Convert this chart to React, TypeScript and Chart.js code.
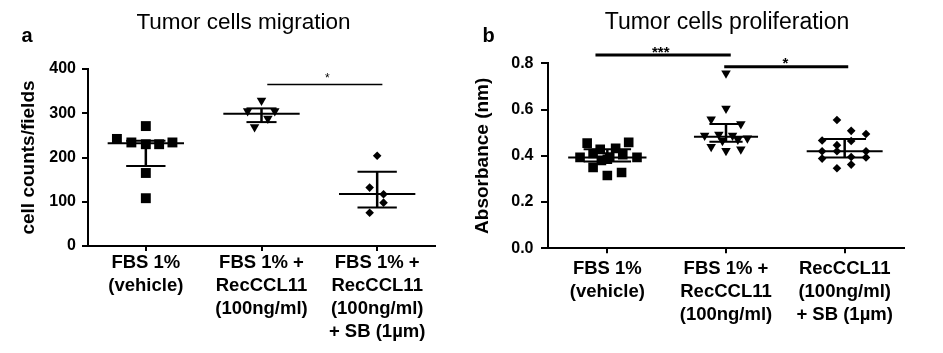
import React, { useEffect, useRef } from 'react';
import { Chart, registerables } from 'chart.js';
Chart.register(...registerables);

const FONT = '"Liberation Sans", Arial, Helvetica, sans-serif';

// ---------- Panel a: Tumor cells migration ----------
const migTitle = 'Tumor cells migration';
const migYLabel = 'cell counts/fields';
const migCategories = [
  ['FBS 1%', '(vehicle)'],
  ['FBS 1% +', 'RecCCL11', '(100ng/ml)'],
  ['FBS 1% +', 'RecCCL11', '(100ng/ml)', '+ SB (1µm)'],
];
const migVehicle = [271, 242, 234, 230, 230, 234, 165, 108];
const migVehicleJitter = [0, -0.25, -0.125, 0, 0.115, 0.23, 0, 0];
const migRec = [329, 305, 305, 288, 269];
const migRecJitter = [0, -0.12, 0.115, 0.055, -0.06];
const migRecSB = [204, 132, 117, 98, 75];
const migRecSBJitter = [0, -0.065, 0.055, 0.055, -0.065];
const migMedian = [232, 299, 117.5];
const migQ1 = [181, 280, 87];
const migQ3 = [238, 311, 168];
const migSigFrom = [1.05];
const migSigTo = [2.045];
const migSigY = [365];
const migSigText = ['*'];
const migSigTextX = [1.57];
const migSigTextY = [370];

// ---------- Panel b: Tumor cells proliferation ----------
const proTitle = 'Tumor cells proliferation';
const proYLabel = 'Absorbance (nm)';
const proCategories = [
  ['FBS 1%', '(vehicle)'],
  ['FBS 1% +', 'RecCCL11', '(100ng/ml)'],
  ['RecCCL11', '(100ng/ml)', '+ SB (1µm)'],
];
const proVehicle = [0.455, 0.428, 0.432, 0.458, 0.393, 0.41, 0.385, 0.405, 0.393, 0.395, 0.35, 0.315, 0.328, 0.38];
const proVehicleJitter = [-0.17, -0.06, 0.07, 0.18, -0.23, -0.12, 0, 0.13, 0.25, 0.02, -0.12, 0, 0.12, -0.05];
const proRec = [0.757, 0.605, 0.558, 0.537, 0.488, 0.492, 0.488, 0.476, 0.439, 0.422, 0.428, 0.465, 0.47];
const proRecJitter = [0, 0, -0.125, 0.125, -0.18, -0.06, 0.055, 0.18, -0.125, 0, 0.125, -0.03, 0.1];
const proRecSB = [0.555, 0.508, 0.494, 0.466, 0.446, 0.464, 0.42, 0.42, 0.42, 0.388, 0.393, 0.346, 0.362, 0.395];
const proRecSBJitter = [-0.065, 0.055, 0.18, -0.19, -0.065, 0.055, -0.19, 0.18, -0.065, -0.19, 0.18, -0.065, 0.055, 0.055];
const proMedian = [0.393, 0.482, 0.42];
const proQ1 = [0.375, 0.461, 0.393];
const proQ3 = [0.428, 0.537, 0.473];
const proSigFrom = [-0.1, 0.985];
const proSigTo = [1.04, 2.03];
const proSigY = [0.836, 0.785];
const proSigText = ['***', '*'];
const proSigTextX = [0.45, 1.5];
const proSigTextY = [0.826, 0.779];

const decorPlugin = {
  id: 'decor',
  afterDatasetsDraw(chart: any, _args: any, opts: any) {
    const ctx = chart.ctx;
    const xs = chart.scales.x;
    const ys = chart.scales.y;
    ctx.save();
    ctx.fillStyle = '#000';
    ctx.textAlign = 'center';
    ctx.textBaseline = 'alphabetic';
    ctx.font = `${opts.titleSize}px ${FONT}`;
    ctx.fillText(opts.title, opts.titleX, opts.titleY);
    ctx.font = `bold ${opts.letterSize}px ${FONT}`;
    ctx.fillText(opts.letter, opts.letterX, opts.letterY);
    ctx.font = `${opts.starWeight} ${opts.starSize}px ${FONT}`;
    opts.starText.forEach((t: string, i: number) => {
      ctx.fillText(t, xs.getPixelForValue(opts.starX[i]), ys.getPixelForValue(opts.starY[i]));
    });
    ctx.restore();
  },
};

function lineDs(points: { x: number; y: number }[], width: number) {
  return {
    type: 'line',
    data: points,
    showLine: true,
    borderColor: '#000',
    borderWidth: width,
    pointRadius: 0,
    fill: false,
    clip: false,
    order: 0,
  };
}

function buildConfig(p: any) {
  const datasets: any[] = [];
  p.groups.forEach((g: any, gi: number) => {
    datasets.push({
      data: g.values.map((v: number, i: number) => ({ x: gi + g.jitter[i], y: v })),
      pointStyle: g.style,
      pointRadius: g.radius,
      pointRotation: g.rotation || 0,
      pointBackgroundColor: '#000',
      pointBorderColor: '#000',
      pointBorderWidth: 0,
      showLine: false,
      order: 1,
    });
  });
  p.median.forEach((m: number, i: number) => {
    datasets.push(lineDs([{ x: i - p.medHalf[i], y: m }, { x: i + p.medHalf[i], y: m }], 2));
    datasets.push(lineDs([{ x: i - p.capHalf[i], y: p.q1[i] }, { x: i + p.capHalf[i], y: p.q1[i] }], 2));
    datasets.push(lineDs([{ x: i - p.capHalf[i], y: p.q3[i] }, { x: i + p.capHalf[i], y: p.q3[i] }], 2));
    datasets.push(lineDs([{ x: i, y: p.q1[i] }, { x: i, y: p.q3[i] }], 2.5));
  });
  p.sigFrom.forEach((f: number, i: number) => {
    datasets.push(lineDs([{ x: f, y: p.sigY[i] }, { x: p.sigTo[i], y: p.sigY[i] }], p.sigWidth));
  });

  return {
    type: 'scatter',
    data: { datasets },
    plugins: [decorPlugin],
    options: {
      animation: false,
      responsive: false,
      events: [],
      layout: { padding: { left: 0, top: p.area.top, right: p.W - p.area.right, bottom: 0 } },
      plugins: {
        legend: { display: false },
        tooltip: { enabled: false },
        title: { display: false },
        decor: p.decor,
      },
      scales: {
        x: {
          type: 'linear',
          min: -0.5,
          max: 2.5,
          afterBuildTicks: (s: any) => {
            s.ticks = p.categories.map((_: any, i: number) => ({ value: i }));
          },
          afterFit: (s: any) => {
            s.height = p.H - p.area.bottom;
          },
          ticks: {
            color: '#000',
            font: { family: FONT, size: 18.5, weight: 'bold', lineHeight: 1.25 },
            padding: p.xTickPad,
            maxRotation: 0,
            autoSkip: false,
            callback: (v: number) => p.categories[Math.round(v)],
          },
          grid: { drawOnChartArea: false, drawTicks: true, tickLength: 5, color: '#000', lineWidth: 2 },
          border: { display: true, color: '#000', width: 2 },
        },
        y: {
          type: 'linear',
          min: p.yMin,
          max: p.yMax,
          afterBuildTicks: (s: any) => {
            s.ticks = p.yTicks.map((v: number) => ({ value: v }));
          },
          afterFit: (s: any) => {
            s.width = p.area.left;
          },
          ticks: {
            color: '#000',
            font: { family: FONT, size: 16, weight: 'bold' },
            padding: p.yTickPad,
            callback: p.yFmt,
          },
          title: {
            display: true,
            text: p.yLabel,
            color: '#000',
            font: { family: FONT, size: 19, weight: 'bold' },
            padding: { top: p.yTitlePad, bottom: 0 },
          },
          grid: { drawOnChartArea: false, drawTicks: true, tickLength: p.yTickLen, color: '#000', lineWidth: 2 },
          border: { display: true, color: '#000', width: 2 },
        },
      },
    },
  };
}

const panelA = {
  W: 470,
  H: 353,
  area: { left: 88, right: 435, top: 69, bottom: 246 },
  yMin: 0,
  yMax: 400,
  yTicks: [0, 100, 200, 300, 400],
  yFmt: (v: number) => String(v),
  yLabel: migYLabel,
  yTitlePad: 17,
  yTickLen: 6,
  yTickPad: 6,
  xTickPad: 0,
  categories: migCategories,
  groups: [
    { values: migVehicle, jitter: migVehicleJitter, style: 'rect', radius: 7 },
    { values: migRec, jitter: migRecJitter, style: 'triangle', radius: 5.5, rotation: 180 },
    { values: migRecSB, jitter: migRecSBJitter, style: 'rectRot', radius: 4.3 },
  ],
  median: migMedian,
  q1: migQ1,
  q3: migQ3,
  medHalf: [0.33, 0.33, 0.33],
  capHalf: [0.17, 0.13, 0.17],
  sigFrom: migSigFrom,
  sigTo: migSigTo,
  sigY: migSigY,
  sigWidth: 1.6,
  decor: {
    title: migTitle, titleSize: 22.5, titleX: 243.5, titleY: 29,
    letter: 'a', letterSize: 20, letterX: 27, letterY: 42,
    starText: migSigText, starX: migSigTextX, starY: migSigTextY, starSize: 12, starWeight: 'normal',
  },
};

const panelB = {
  W: 473,
  H: 353,
  area: { left: 78, right: 434, top: 63.3, bottom: 248.3 },
  yMin: 0,
  yMax: 0.8,
  yTicks: [0, 0.2, 0.4, 0.6, 0.8],
  yFmt: (v: number) => v.toFixed(1),
  yLabel: proYLabel,
  yTitlePad: 1.5,
  yTickLen: 7,
  yTickPad: 7.5,
  xTickPad: 4,
  categories: proCategories,
  groups: [
    { values: proVehicle, jitter: proVehicleJitter, style: 'rect', radius: 6.8 },
    { values: proRec, jitter: proRecJitter, style: 'triangle', radius: 5.5, rotation: 180 },
    { values: proRecSB, jitter: proRecSBJitter, style: 'rectRot', radius: 4.3 },
  ],
  median: proMedian,
  q1: proQ1,
  q3: proQ3,
  medHalf: [0.33, 0.27, 0.32],
  capHalf: [0.2, 0.14, 0.18],
  sigFrom: proSigFrom,
  sigTo: proSigTo,
  sigY: proSigY,
  sigWidth: 3,
  decor: {
    title: proTitle, titleSize: 23, titleX: 257, titleY: 29,
    letter: 'b', letterSize: 20, letterX: 18.5, letterY: 42,
    starText: proSigText, starX: proSigTextX, starY: proSigTextY, starSize: 15, starWeight: 'bold',
  },
};

function Panel({ spec, left }: { spec: any; left: number }) {
  const ref = useRef<HTMLCanvasElement | null>(null);
  useEffect(() => {
    if (!ref.current) return;
    const chart = new Chart(ref.current, buildConfig(spec) as any);
    return () => chart.destroy();
  }, [spec]);
  return (
    <canvas
      ref={ref}
      width={spec.W}
      height={spec.H}
      style={{ position: 'absolute', left, top: 0, width: spec.W, height: spec.H, display: 'block' }}
    />
  );
}

export default function App() {
  return (
    <div style={{ position: 'absolute', left: 0, top: 0, width: 943, height: 353, background: '#fff' }}>
      <Panel spec={panelA} left={0} />
      <Panel spec={panelB} left={470} />
    </div>
  );
}
